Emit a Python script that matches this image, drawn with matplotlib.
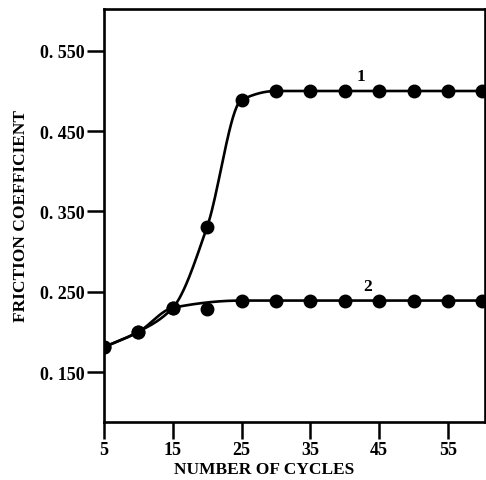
import numpy as np
import matplotlib
matplotlib.use("Agg")
import matplotlib.pyplot as plt

# data
cycles = [5, 10, 15, 20, 25, 30, 35, 40, 45, 50, 55, 60]
curve1 = [0.181, 0.200, 0.230, 0.331, 0.489, 0.500, 0.500, 0.500, 0.500, 0.500, 0.500, 0.500]
curve2 = [0.181, 0.200, 0.230, 0.228, 0.239, 0.239, 0.239, 0.239, 0.239, 0.239, 0.239, 0.239]
curve2_line_skip = [20]   # point sits off the drawn line

xticks = [5, 15, 25, 35, 45, 55]
yticks = [0.150, 0.250, 0.350, 0.450, 0.550]
ytick_labels = ["0. 150", "0. 250", "0. 350", "0. 450", "0. 550"]


def pchip(x, y, xs):
    # monotone cubic through the points
    x = np.asarray(x, float)
    y = np.asarray(y, float)
    h = np.diff(x)
    d = np.diff(y) / h
    m = np.zeros_like(y)
    for k in range(1, len(x) - 1):
        if d[k - 1] * d[k] <= 0:
            m[k] = 0
        else:
            w1 = 2 * h[k] + h[k - 1]
            w2 = h[k] + 2 * h[k - 1]
            m[k] = (w1 + w2) / (w1 / d[k - 1] + w2 / d[k])
    m[0] = d[0]
    m[-1] = d[-1]
    out = np.empty_like(xs)
    for i, t in enumerate(xs):
        k = min(np.searchsorted(x, t, side="right") - 1, len(x) - 2)
        k = max(k, 0)
        s = (t - x[k]) / h[k]
        h00 = 2 * s**3 - 3 * s**2 + 1
        h10 = s**3 - 2 * s**2 + s
        h01 = -2 * s**3 + 3 * s**2
        h11 = s**3 - s**2
        out[i] = h00 * y[k] + h10 * h[k] * m[k] + h01 * y[k + 1] + h11 * h[k] * m[k + 1]
    return out


plt.rcParams["font.family"] = ["Liberation Serif", "DejaVu Serif"]
plt.rcParams["font.weight"] = "bold"

fig = plt.figure(figsize=(4.86, 4.81), dpi=100)
ax = fig.add_axes([0.214, 0.121, 0.784, 0.858])

xs = np.linspace(5, 60, 400)
ax.plot(xs, pchip(cycles, curve1, xs), color="black", lw=1.9)
x2 = [c for c in cycles if c not in curve2_line_skip]
y2 = [v for c, v in zip(cycles, curve2) if c not in curve2_line_skip]
ax.plot(xs, pchip(x2, y2, xs), color="black", lw=1.9)

ax.plot(cycles, curve1, "o", color="black", ms=9)
ax.plot(cycles, curve2, "o", color="black", ms=9)

ax.text(42.4, 0.519, "1", fontsize=12.5, fontweight="bold", ha="center", va="center")
ax.text(43.3, 0.257, "2", fontsize=12.5, fontweight="bold", ha="center", va="center")

ax.set_xlim(5, 60.4)
ax.set_ylim(0.088, 0.602)
ax.set_xticks(xticks)
ax.set_xticklabels([str(t) for t in xticks])
ax.set_yticks(yticks)
ax.set_yticklabels(ytick_labels)
ax.tick_params(direction="out", length=12, width=1.8, labelsize=13, pad=2)
for lab in ax.get_xticklabels() + ax.get_yticklabels():
    lab.set_fontweight("bold")
for sp in ax.spines.values():
    sp.set_linewidth(1.9)

ax.set_xlabel("NUMBER OF CYCLES", fontsize=12.5, fontweight="bold")
ax.xaxis.set_label_coords(0.42, -0.095)
ax.set_ylabel("FRICTION COEFFICIENT", fontsize=12.5, fontweight="bold", labelpad=8)

fig.savefig("out.png", dpi=100)
